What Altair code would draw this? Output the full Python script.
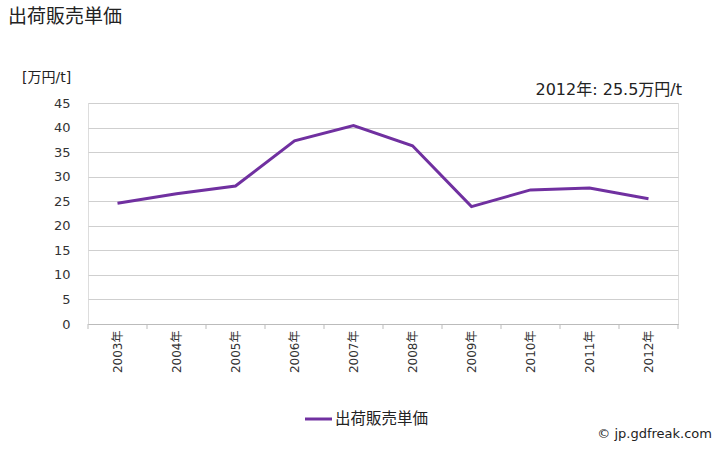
import altair as alt
import pandas as pd

years = ["2003年", "2004年", "2005年", "2006年", "2007年", "2008年", "2009年", "2010年", "2011年", "2012年"]
values = [24.6, 26.5, 28.1, 37.3, 40.4, 36.3, 23.9, 27.3, 27.7, 25.5]
series_name = "出荷販売単価"
title_text = "出荷販売単価"
unit_text = "[万円/t]"
note_text = "2012年: 25.5万円/t"
credit_text = "© jp.gdfreak.com"

FONT = "DejaVu Sans, Noto Sans CJK JP"
CJK = "Noto Sans CJK JP"
LINE_COLOR = "#7030A0"

df = pd.DataFrame({"year": years, "value": values})

W, H = 590, 221

x_enc = alt.X("year:N", sort=years, title=None,
              scale=alt.Scale(paddingInner=0, paddingOuter=0),
              axis=alt.Axis(labelAngle=-90, ticks=False, labelFontSize=12,
                            labelColor="#333", labelFont=FONT, labelPadding=6,
                            domainColor="#bbb", labelBaseline="middle"))
y_enc = alt.Y("value:Q", title=None,
              scale=alt.Scale(domain=[0, 45]),
              axis=alt.Axis(values=list(range(0, 50, 5)), domain=False, ticks=False,
                            labelFontSize=13, labelColor="#333", labelFont=FONT,
                            labelPadding=18, gridColor="#cfcfcf", gridWidth=1))

line = alt.Chart(df).mark_line(color=LINE_COLOR, strokeWidth=3).encode(x=x_enc, y=y_enc)

ticks = alt.Chart(df).mark_rule(color="#bbb").encode(
    x=alt.X("year:N", sort=years, bandPosition=0),
    y=alt.value(H), y2=alt.value(H + 5))
last_tick = alt.Chart(df.head(1)).mark_rule(color="#bbb").encode(
    x=alt.value(W), y=alt.value(H), y2=alt.value(H + 5))

def txt(t, x, y, size, align="left", font=FONT):
    return alt.Chart(pd.DataFrame({"t": [t]})).mark_text(
        align=align, baseline="middle", fontSize=size, font=font, color="#222"
    ).encode(text="t:N", x=alt.value(x), y=alt.value(y))

title = txt(title_text, -80, -86, 19, font=CJK)
unit = txt(unit_text, -66, -25, 14)
note = txt(note_text, 594, -13, 16, align="right")
legend_line = alt.Chart(pd.DataFrame({"a": [0]})).mark_rule(color=LINE_COLOR, strokeWidth=3).encode(
    x=alt.value(217), x2=alt.value(244), y=alt.value(316))
legend_text = txt(series_name, 247, 316, 15.5, font=CJK)
credit = txt(credit_text, 624, 331, 13, align="right")

chart = alt.layer(line, ticks, last_tick, title, unit, note, legend_line, legend_text, credit).properties(
    width=W, height=H,
    autosize=alt.AutoSizeParams(type="none"),
    padding={"left": 88, "top": 103, "right": 50, "bottom": 126},
).configure_view(stroke=None).configure(background="white")

chart.save("out.html", embed_options={"renderer": "svg", "actions": False})
